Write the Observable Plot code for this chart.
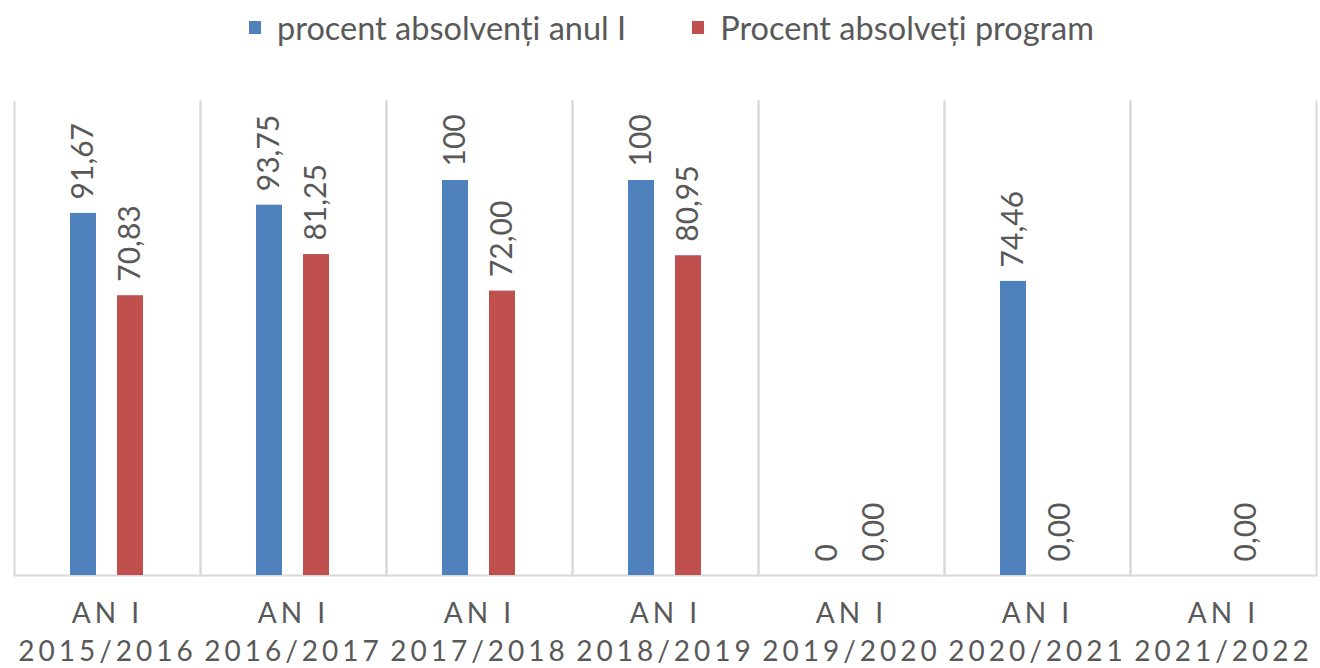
<!DOCTYPE html>
<html><head><meta charset="utf-8">
<script src="https://cdn.jsdelivr.net/npm/d3@7"></script>
<script src="https://cdn.jsdelivr.net/npm/@observablehq/plot@0.6"></script>
<style>
body{margin:0;background:#fff;font-family:Lato,sans-serif;}
#legend{height:54px;display:flex;justify-content:center;align-items:center;font-size:32.5px;color:#595959;padding-left:23px;margin-bottom:2px;}
#legend .item{display:flex;align-items:center;margin:0 33px;}
#legend .sw{width:12px;height:13px;margin-right:16px;}
#chart svg g[aria-label="fx-axis tick label"] text{letter-spacing:4px;}
</style></head>
<body><div id="legend"></div><div id="chart"></div>
<script>
const years = ["2015/2016","2016/2017","2017/2018","2018/2019","2019/2020","2020/2021","2021/2022"];
const seriesNames = ["procent absolvenți anul I","Procent absolveți program"];
const colors = ["#4F81BD","#C0504D"];
const anulI = [91.67, 93.75, 100, 100, 0, 74.46, null];
const program = [70.83, 81.25, 72.00, 80.95, 0, 0, 0];
const anulILabels = ["91,67","93,75","100","100","0","74,46",null];
const programLabels = ["70,83","81,25","72,00","80,95","0,00","0,00","0,00"];
const tickPrefix = "AN I";

const rows = [];
years.forEach((y,i)=>{
  if (anulI[i] != null) rows.push({year:y, series:seriesNames[0], value:anulI[i], label:anulILabels[i]});
  if (program[i] != null) rows.push({year:y, series:seriesNames[1], value:program[i], label:programLabels[i]});
});

const legend = document.getElementById("legend");
seriesNames.forEach((s,i)=>{
  const it = document.createElement("div"); it.className="item";
  const sw = document.createElement("span"); sw.className="sw"; sw.style.background=colors[i];
  const t = document.createElement("span"); t.textContent = s;
  it.appendChild(sw); it.appendChild(t); legend.appendChild(it);
});

const chart = Plot.plot({
  width:1320, height:612, marginLeft:12, marginRight:2, marginTop:45, marginBottom:93,
  style:{fontFamily:"Lato, sans-serif", background:"#fff"},
  fx:{domain:years, padding:0, label:null, axis:null},
  x:{domain:seriesNames, axis:null, paddingInner:0.4375, paddingOuter:1.1625},
  y:{domain:[0,120], axis:null},
  color:{domain:seriesNames, range:colors},
  marks:[
    Plot.frame({anchor:"left", stroke:"#d9d9d9", strokeWidth:2}),
    Plot.frame({anchor:"right", stroke:"#d9d9d9", strokeWidth:2}),
    Plot.ruleY([0], {stroke:"#d9d9d9", strokeWidth:2}),
    Plot.barY(rows, {fx:"year", x:"series", y:"value", fill:"series"}),
    Plot.text(rows, {fx:"year", x:"series", y:"value", text:"label", rotate:-90, textAnchor:"start", dy:-14, fontSize:30, fill:"#595959"}),
    Plot.axisFx({anchor:"bottom", tickSize:0, tickPadding:20, fontSize:28, lineHeight:1.36, fill:"#595959", label:null, tickFormat:d=>tickPrefix+"\n"+d})
  ]
});
document.getElementById("chart").appendChild(chart);
</script>
</body></html>
